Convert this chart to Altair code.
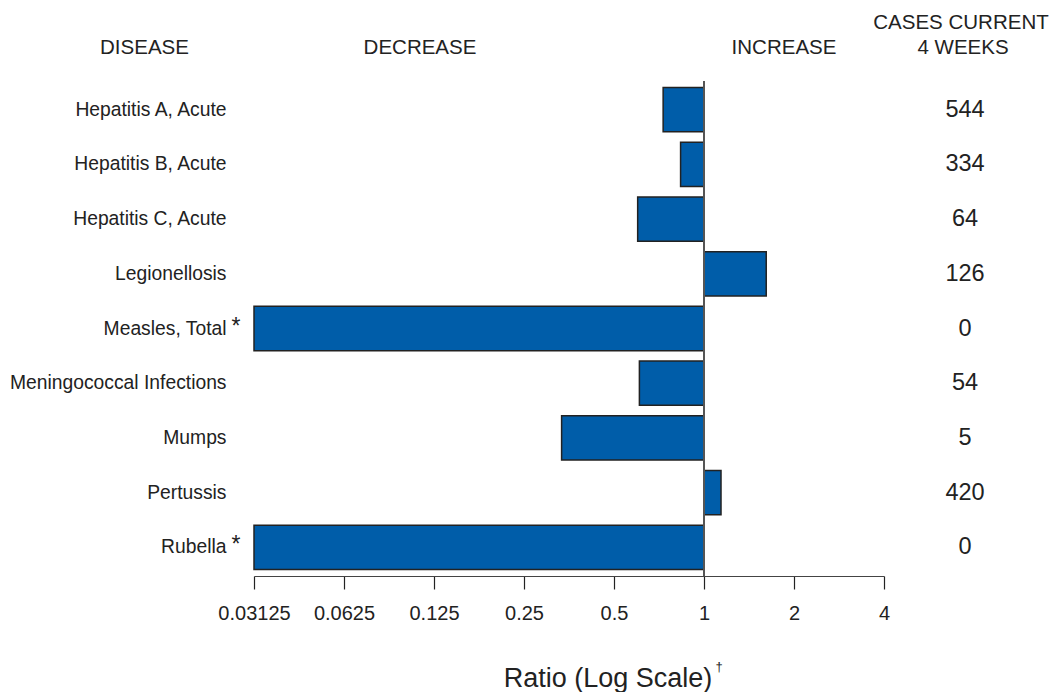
import altair as alt
import pandas as pd

# ---- data ----
diseases = [
    "Hepatitis A, Acute",
    "Hepatitis B, Acute",
    "Hepatitis C, Acute",
    "Legionellosis",
    "Measles, Total",
    "Meningococcal Infections",
    "Mumps",
    "Pertussis",
    "Rubella",
]
ratios = [0.73, 0.835, 0.60, 1.615, 0.03125, 0.608, 0.334, 1.14, 0.03125]
cases_current = [544, 334, 64, 126, 0, 54, 5, 420, 0]
footnoted = ["Measles, Total", "Rubella"]
tick_values = [0.03125, 0.0625, 0.125, 0.25, 0.5, 1, 2, 4]
base_ratio = 1

df = pd.DataFrame({
    "disease": diseases,
    "ratio": ratios,
    "base": [base_ratio] * len(diseases),
    "cases": cases_current,
})

FONT = "Liberation Sans"
TXT = "#222222"
BLUE = "#005DA9"

xscale = alt.Scale(type="log", base=2, domain=[tick_values[0], tick_values[-1]])
yscale = alt.Scale(domain=diseases, paddingInner=0.19, paddingOuter=0.12)

base = alt.Chart(df)

bars = base.mark_bar(fill=BLUE, stroke="#222222", strokeWidth=1.5).encode(
    x=alt.X(
        "ratio:Q",
        scale=xscale,
        axis=alt.Axis(
            values=tick_values,
            labelExpr="datum.value + ''",
            title=None,
            grid=False,
            domainColor="#444444",
            domainWidth=1.2,
            tickColor="#222222",
            tickWidth=1.2,
            tickSize=13,
            labelPadding=14,
            labelFontSize=20,
            labelFont=FONT,
            labelColor=TXT,
            labelFlush=False,
        ),
    ),
    x2="base:Q",
    y=alt.Y(
        "disease:N",
        scale=yscale,
        sort=diseases,
        axis=alt.Axis(
            title=None,
            domain=False,
            ticks=False,
            tickSize=0,
            labelPadding=28,
            labelFontSize=19.3,
            labelFont=FONT,
            labelColor=TXT,
            labelLimit=400,
        ),
    ),
)

rule = alt.Chart(pd.DataFrame({"r": [base_ratio]})).mark_rule(
    color="#555555", strokeWidth=2
).encode(x=alt.X("r:Q", scale=xscale))

cases_text = base.mark_text(
    font=FONT, fontSize=23.5, color=TXT, align="center", baseline="middle"
).encode(
    x=alt.value(711),
    y=alt.Y("disease:N", scale=yscale, sort=diseases),
    text="cases:Q",
)

stars = base.transform_filter(
    alt.FieldOneOfPredicate(field="disease", oneOf=footnoted)
).mark_text(
    text="*", font=FONT, fontSize=23, color=TXT, align="center",
    baseline="alphabetic", dx=-18, dy=5,
).encode(
    x=alt.X("ratio:Q", scale=xscale),
    y=alt.Y("disease:N", scale=yscale, sort=diseases),
)


def label(txt, x, y, size, align="center"):
    return alt.Chart(pd.DataFrame({"t": [txt]})).mark_text(
        font=FONT, fontSize=size, color=TXT, align=align, baseline="alphabetic"
    ).encode(x=alt.value(x), y=alt.value(y), text="t:N")


headers = [
    label("DISEASE", -109.5, -27, 20.5),
    label("DECREASE", 166, -27, 20.5),
    label("INCREASE", 530, -27, 20.5),
    label("CASES CURRENT", 707, -52, 20.5),
    label("4 WEEKS", 709, -27, 20.5),
    label("Ratio (Log Scale)", 354, 606, 27),
    label("\u2020", 465, 590, 13),
]

chart = alt.layer(bars, rule, cases_text, stars, *headers).properties(
    width=630,
    height=495,
    autosize="none",
    padding={"left": 246, "top": 73, "right": 165, "bottom": 116},
    background="white",
).configure_view(stroke=None)

chart.save("out.html", embed_options={"renderer": "svg", "actions": False})
